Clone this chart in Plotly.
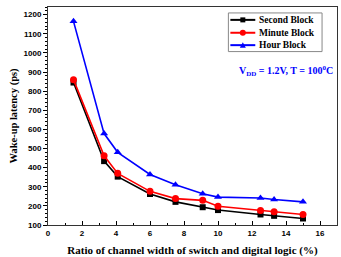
import plotly.graph_objects as go

ratio = [1.5, 3.3, 4.1, 6.0, 7.5, 9.1, 10.0, 12.5, 13.3, 15.0]
second_block = [845, 434, 353, 262, 221, 193, 178, 155, 148, 134]
minute_block = [860, 462, 370, 276, 238, 229, 198, 176, 169, 155]
hour_block = [1165, 578, 480, 364, 310, 263, 246, 241, 233, 221]
series_names = ["Second Block", "Minute Block", "Hour Block"]
series_colors = ["#000000", "#ff0000", "#0000ff"]
series_symbols = ["square", "circle", "triangle-up"]

serif = "Liberation Serif"
sans = "Liberation Sans"

W, H = 341, 257
ML, MR, MT, MB = 48, 3, 7, 30
PW, PH = W - ML - MR, H - MT - MB


def px(x):
    return (x - ML) / PW


def py(y):
    return (H - MB - y) / PH


fig = go.Figure()
for vals, name, col, sym in zip([second_block, minute_block, hour_block],
                                series_names, series_colors, series_symbols):
    fig.add_trace(go.Scatter(x=ratio, y=vals, name=name, mode="lines+markers",
                             line=dict(color=col, width=1.6),
                             marker=dict(symbol=sym, size=6 if sym == "square" else 7, color=col),
                             showlegend=False))

# custom compact legend (box, line samples, marker glyphs, labels)
shapes = [dict(type="rect", xref="paper", yref="paper", x0=px(229), x1=px(323),
               y0=py(52), y1=py(13), line=dict(color="#888888", width=1), fillcolor="white",
               layer="above")]
annotations = []
rows = [20, 33, 45.5]
for row, name, col, sym in zip(rows, series_names, series_colors, series_symbols):
    shapes.append(dict(type="line", xref="paper", yref="paper", x0=px(231), x1=px(256),
                       y0=py(row), y1=py(row), line=dict(color=col, width=2), layer="above"))
    if sym == "square":
        shapes.append(dict(type="rect", xref="paper", yref="paper", xsizemode="pixel",
                           ysizemode="pixel", xanchor=px(243.5), yanchor=py(row),
                           x0=-2.5, x1=2.5, y0=-2.5, y1=2.5, fillcolor=col,
                           line=dict(color=col, width=0), layer="above"))
    elif sym == "circle":
        shapes.append(dict(type="circle", xref="paper", yref="paper", xsizemode="pixel",
                           ysizemode="pixel", xanchor=px(243.5), yanchor=py(row),
                           x0=-3, x1=3, y0=-3, y1=3, fillcolor=col,
                           line=dict(color=col, width=0), layer="above"))
    else:
        shapes.append(dict(type="path", xref="paper", yref="paper", xsizemode="pixel",
                           ysizemode="pixel", xanchor=px(243.5), yanchor=py(row),
                           path="M -3 -2.5 L 3 -2.5 L 0 3 Z", fillcolor=col,
                           line=dict(color=col, width=0), layer="above"))
    annotations.append(dict(x=px(258), y=py(row), xref="paper", yref="paper",
                            xanchor="left", yanchor="middle", showarrow=False,
                            text="<b>" + name + "</b>",
                            font=dict(family=serif, size=9.5, color="black")))

annotations.append(dict(x=px(287), y=py(72), xref="paper", yref="paper",
                        xanchor="center", yanchor="middle", showarrow=False,
                        text="<b>V<sub>DD</sub> = 1.2V, T = 100<sup>0</sup>C</b>",
                        font=dict(family=serif, size=10, color="#0000ff")))

fig.update_layout(
    width=W, height=H,
    margin=dict(l=ML, r=MR, t=MT, b=MB),
    paper_bgcolor="white", plot_bgcolor="white",
    showlegend=False,
    shapes=shapes, annotations=annotations,
    xaxis=dict(range=[0, 17], tickmode="array", tickvals=[0, 2, 4, 6, 8, 10, 12, 14, 16],
               ticks="inside", ticklen=4, tickwidth=1, tickcolor="black",
               minor=dict(dtick=1, ticks="inside", ticklen=2, tickcolor="black"),
               showline=True, linecolor="#333333", linewidth=1, mirror=True,
               showgrid=False, zeroline=False,
               tickfont=dict(family=sans, size=8, color="black", weight="bold"),
               title=dict(text="<b>Ratio of channel width of switch and digital logic (%)</b>",
                          font=dict(family=serif, size=11, color="black"), standoff=9)),
    yaxis=dict(range=[100, 1240], tickmode="array",
               tickvals=[100, 200, 300, 400, 500, 600, 700, 800, 900, 1000, 1100, 1200],
               ticks="outside", ticklen=4, tickwidth=1, tickcolor="black",
               minor=dict(dtick=20, tick0=100, ticks="outside", ticklen=2, tickcolor="black"),
               showline=True, linecolor="#333333", linewidth=1, mirror=True,
               showgrid=False, zeroline=False,
               tickfont=dict(family=sans, size=8, color="black", weight="bold"),
               title=dict(text="<b>Wake-up latency (ps)</b>",
                          font=dict(family=serif, size=10.5, color="black"), standoff=3)),
)

fig.write_html("out.html")
